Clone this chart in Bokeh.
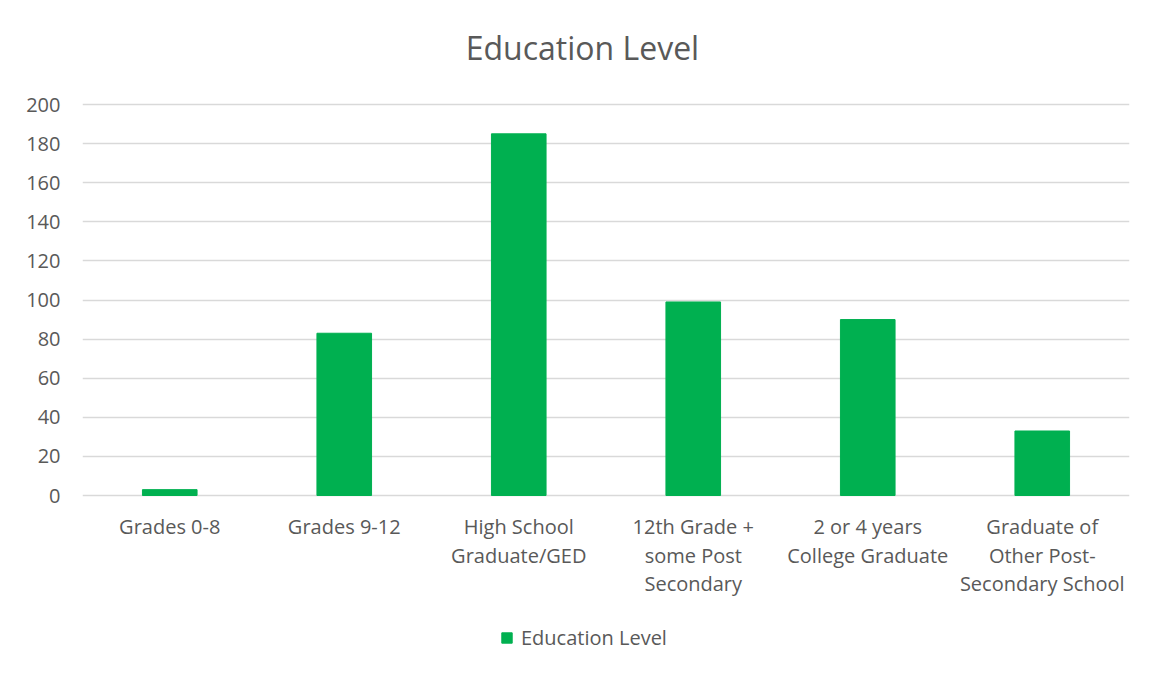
from bokeh.plotting import figure
from bokeh.models import ColumnDataSource, Range1d, FactorRange, Legend, LegendItem, FixedTicker, Label
from bokeh.core.properties import value
from bokeh.embed import file_html
from bokeh.resources import INLINE

# ---- data ----
categories = [
    "Grades 0-8",
    "Grades 9-12",
    "High School\nGraduate/GED",
    "12th Grade +\nsome Post\nSecondary",
    "2 or 4 years\nCollege Graduate",
    "Graduate of\nOther Post-\nSecondary School",
]
values = [3, 83, 185, 99, 90, 33]
y_ticks = [0, 20, 40, 60, 80, 100, 120, 140, 160, 180, 200]
series_name = "Education Level"
chart_title = "Education Level"

FONT = "Open Sans"
TEXT = "#595959"
GRID = "#D9D9D9"
GREEN = "#00B050"

# layout: value axis 0..200 occupies pixels 495..104 of a 674px-tall frame
PX_PER_UNIT = 391 / 200.0
Y_MIN = -(674 - 495) / PX_PER_UNIT
Y_MAX = 200 + 104 / PX_PER_UNIT

source = ColumnDataSource(dict(cat=categories, val=values))

p = figure(
    x_range=FactorRange(*categories, range_padding=0),
    y_range=Range1d(Y_MIN, Y_MAX),
    frame_width=1047, frame_height=674,
    min_border_left=82, min_border_right=16,
    min_border_top=0, min_border_bottom=0,
    output_backend="svg", toolbar_location=None,
    title=None,
)

r = p.vbar(x="cat", top="val", width=0.313, source=source,
           fill_color=GREEN, line_color=GREEN, line_width=1)

# category labels under the bars
p.text(x="cat", y=-9.2, text="cat", source=source,
       text_align="center", text_baseline="top",
       text_font=value(FONT), text_font_size="20px", text_color=TEXT,
       text_line_height=1.05)

# chart title
p.add_layout(Label(
    x=2.865, y=200 + (104 - 47) / PX_PER_UNIT,
    text=chart_title, text_align="center", text_baseline="alphabetic",
    text_font=FONT, text_font_size="32px", text_color=TEXT,
))

p.outline_line_color = None
p.background_fill_color = "white"
p.border_fill_color = "white"

p.xaxis.visible = False
p.xgrid.grid_line_color = None
p.ygrid.grid_line_color = GRID
p.ygrid.grid_line_width = 1.5

p.yaxis.ticker = FixedTicker(ticks=y_ticks)
ax = p.yaxis[0]
ax.axis_line_color = None
ax.major_tick_line_color = None
ax.minor_tick_line_color = None
ax.major_tick_in = 0
ax.major_tick_out = 0
ax.minor_tick_in = 0
ax.minor_tick_out = 0
ax.major_label_text_font = FONT
ax.major_label_text_font_size = "20px"
ax.major_label_text_color = TEXT
ax.major_label_standoff = 22

legend = Legend(
    items=[LegendItem(label=series_name, renderers=[r])],
    location=(418, 23),
    orientation="horizontal",
    glyph_width=13, glyph_height=13,
    label_standoff=8,
    label_text_font=FONT,
    label_text_font_size="20px",
    label_text_color=TEXT,
    border_line_color=None,
    background_fill_alpha=0,
    padding=4,
    margin=0,
)
p.add_layout(legend)

open("out.html", "w").write(file_html(p, INLINE))
